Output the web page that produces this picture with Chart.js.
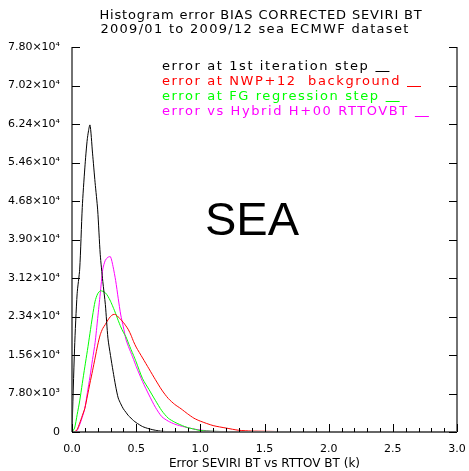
<!DOCTYPE html>
<html>
<head>
<meta charset="utf-8">
<script src="https://cdn.jsdelivr.net/npm/chart.js@4.4.1/dist/chart.umd.min.js"></script>
<style>
  html, body { margin: 0; padding: 0; background: #fff; }
  #wrap { width: 469px; height: 471px; }
</style>
</head>
<body>
<div id="wrap"><canvas id="histo"></canvas></div>
<script>
// Histogram bins (k) and counts per series
const binX = [0, 0.02, 0.04, 0.06, 0.08, 0.10, 0.12, 0.14, 0.16, 0.18, 0.20, 0.22, 0.24, 0.26, 0.28,
  0.30, 0.32, 0.34, 0.36, 0.38, 0.40, 0.42, 0.44, 0.46, 0.48, 0.50,
  0.55, 0.60, 0.65, 0.70, 0.75, 0.80, 0.85, 0.90, 0.95, 1.0,
  1.1, 1.2, 1.3, 1.4, 1.5, 1.6, 1.7, 1.8, 1.9, 2.0];

const firstIter = [0, 17000, 28000, 33000, 45500, 53500, 59500, 62200, 56500, 50500, 45000, 36000, 30500, 25800, 19000,
  15500, 12300, 9300, 6900, 5700, 4700, 4000, 3300, 2800, 2300, 1900,
  1100, 650, 350, 150, 80, 30, 0, 0, 0, 0,
  0, 0, 0, 0, 0, 0, 0, 0, 0, 0];

const nwp12 = [0, 0, 500, 1800, 3300, 4800, 7300, 9900, 12400, 15000, 17600, 19700, 21000, 21800, 22700,
  23400, 23800, 23800, 23300, 22800, 22200, 21500, 20700, 19600, 18300, 17200,
  15000, 12800, 10600, 8500, 6800, 5600, 4700, 3700, 2800, 2200,
  1300, 800, 350, 200, 150, 100, 80, 60, 40, 0];

const fgRegression = [0, 800, 3500, 6300, 9800, 13200, 16500, 20000, 23500, 26500, 28000, 28600, 28500, 28200, 27500,
  26500, 25300, 24000, 22600, 21300, 20200, 19300, 18000, 16700, 15500, 14200,
  10800, 8600, 6400, 4300, 2800, 2000, 1400, 900, 600, 300,
  150, 80, 40, 20, 10, 0, 0, 0, 0, 0];

const hybrid = [0, 0, 300, 1500, 3000, 4800, 8000, 11200, 14700, 18100, 23000, 28000, 33000, 34800, 35400,
  35500, 33500, 30700, 27100, 23700, 21300, 18800, 17300, 16000, 14700, 13300,
  10200, 7500, 5000, 3100, 2200, 1600, 1200, 900, 600, 400,
  150, 80, 50, 30, 20, 0, 0, 0, 0, 0];

const yTickValues = [0, 7800, 15600, 23400, 31200, 39000, 46800, 54600, 62400, 70200, 78000];
const yTickLabels = ['0', '7.80×10³', '1.56×10⁴', '2.34×10⁴', '3.12×10⁴', '3.90×10⁴',
  '4.68×10⁴', '5.46×10⁴', '6.24×10⁴', '7.02×10⁴', '7.80×10⁴'];

const titleLines = ['Histogram error BIAS CORRECTED SEVIRI BT', '2009/01 to 2009/12 sea ECMWF dataset'];
const seriesLabels = ['error at 1st iteration step', 'error at NWP+12  background',
  'error at FG regression step', 'error vs Hybrid H+00 RTTOVBT'];
const seriesColors = ['#000000', '#ff0000', '#00ff00', '#ff00ff'];

const FONT = "'DejaVu Sans', sans-serif";

function pts(ys) {
  return binX.map((x, i) => ({ x: x, y: ys[i] }));
}

// IDL-style box: inward ticks, title, legend text with trailing dash, big region label
const idlFrame = {
  id: 'idlFrame',
  afterDraw(chart) {
    const { ctx, chartArea: a, scales: { x, y } } = chart;
    ctx.save();
    // axis lines (no top line)
    ctx.strokeStyle = '#444';
    ctx.lineWidth = 1.5;
    ctx.beginPath();
    ctx.moveTo(a.left, a.top); ctx.lineTo(a.left, a.bottom);
    ctx.moveTo(a.right, a.top); ctx.lineTo(a.right, a.bottom);
    ctx.stroke();
    ctx.strokeStyle = '#666';
    ctx.lineWidth = 2;
    ctx.beginPath();
    ctx.moveTo(a.left, a.bottom); ctx.lineTo(a.right, a.bottom);
    ctx.stroke();

    // ticks
    ctx.strokeStyle = '#000';
    ctx.lineWidth = 1;
    ctx.beginPath();
    for (let i = 0; i <= 30; i++) {
      const px = Math.round(x.getPixelForValue(i / 10)) + 0.5;
      const len = i % 5 === 0 ? 8 : 4;
      ctx.moveTo(px, a.bottom); ctx.lineTo(px, a.bottom - len);
    }
    yTickValues.forEach(v => {
      const py = Math.round(y.getPixelForValue(v)) + 0.5;
      ctx.moveTo(a.left, py); ctx.lineTo(a.left + 8, py);
      ctx.moveTo(a.right, py); ctx.lineTo(a.right - 8, py);
    });
    ctx.stroke();

    // title
    ctx.fillStyle = '#000';
    ctx.font = '13px ' + FONT;
    ctx.textAlign = 'center';
    ctx.textBaseline = 'middle';
    ctx.letterSpacing = '0.85px';
    ctx.fillText(titleLines[0], 261, 16);
    ctx.letterSpacing = '1.3px';
    ctx.fillText(titleLines[1], 255, 29.5);

    // legend
    ctx.font = '13px ' + FONT;
    ctx.letterSpacing = '1.6px';
    ctx.textAlign = 'left';
    chart.data.datasets.forEach((ds, i) => {
      const ty = 67 + i * 15;
      ctx.fillStyle = ds.borderColor;
      ctx.fillText(ds.label, 162, ty);
      const w = ctx.measureText(ds.label).width;
      ctx.strokeStyle = ds.borderColor;
      ctx.beginPath();
      ctx.moveTo(162 + w + 6, ty + 4.5);
      ctx.lineTo(162 + w + 20, ty + 4.5);
      ctx.stroke();
    });

    // region label
    ctx.letterSpacing = '0px';
    ctx.fillStyle = '#000';
    ctx.font = "47px 'Liberation Sans', Arial, sans-serif";
    ctx.textBaseline = 'alphabetic';
    ctx.fillText('SEA', 205, 235);
    ctx.restore();
  }
};

new Chart(document.getElementById('histo'), {
  type: 'line',
  data: {
    datasets: [
      { label: seriesLabels[0], data: pts(firstIter), borderColor: seriesColors[0] },
      { label: seriesLabels[1], data: pts(nwp12), borderColor: seriesColors[1] },
      { label: seriesLabels[2], data: pts(fgRegression), borderColor: seriesColors[2] },
      { label: seriesLabels[3], data: pts(hybrid), borderColor: seriesColors[3] }
    ].map(d => Object.assign(d, { borderWidth: 1, pointRadius: 0, tension: 0.25, fill: false }))
  },
  options: {
    responsive: true,
    maintainAspectRatio: false,
    animation: false,
    layout: { padding: { left: 0, right: 12, top: 47, bottom: 0 } },
    plugins: {
      legend: { display: false },
      tooltip: { enabled: false },
      title: { display: false }
    },
    scales: {
      x: {
        type: 'linear',
        min: 0,
        max: 3,
        border: { display: false },
        grid: { display: false, drawTicks: false },
        afterFit: s => { s.height = 39; s.paddingLeft = 0; s.paddingRight = 0; },
        ticks: {
          stepSize: 0.5,
          padding: 11,
          color: '#000',
          font: { family: FONT, size: 11 },
          callback: v => v.toFixed(1)
        },
        title: {
          display: true,
          text: 'Error SEVIRI BT vs RTTOV BT (k)',
          color: '#000',
          font: { family: FONT, size: 12 },
          padding: { top: 0, bottom: 0 }
        }
      },
      y: {
        min: 0,
        max: 78000,
        border: { display: false },
        grid: { display: false },
        afterFit: s => { s.width = 72; s.paddingTop = 0; s.paddingBottom = 0; },
        afterBuildTicks: s => { s.ticks = yTickValues.map(v => ({ value: v })); },
        ticks: {
          padding: 4,
          color: '#000',
          font: { family: FONT, size: 11 },
          callback: (v) => yTickLabels[yTickValues.indexOf(v)]
        }
      }
    }
  },
  plugins: [idlFrame]
});
</script>
</body>
</html>
